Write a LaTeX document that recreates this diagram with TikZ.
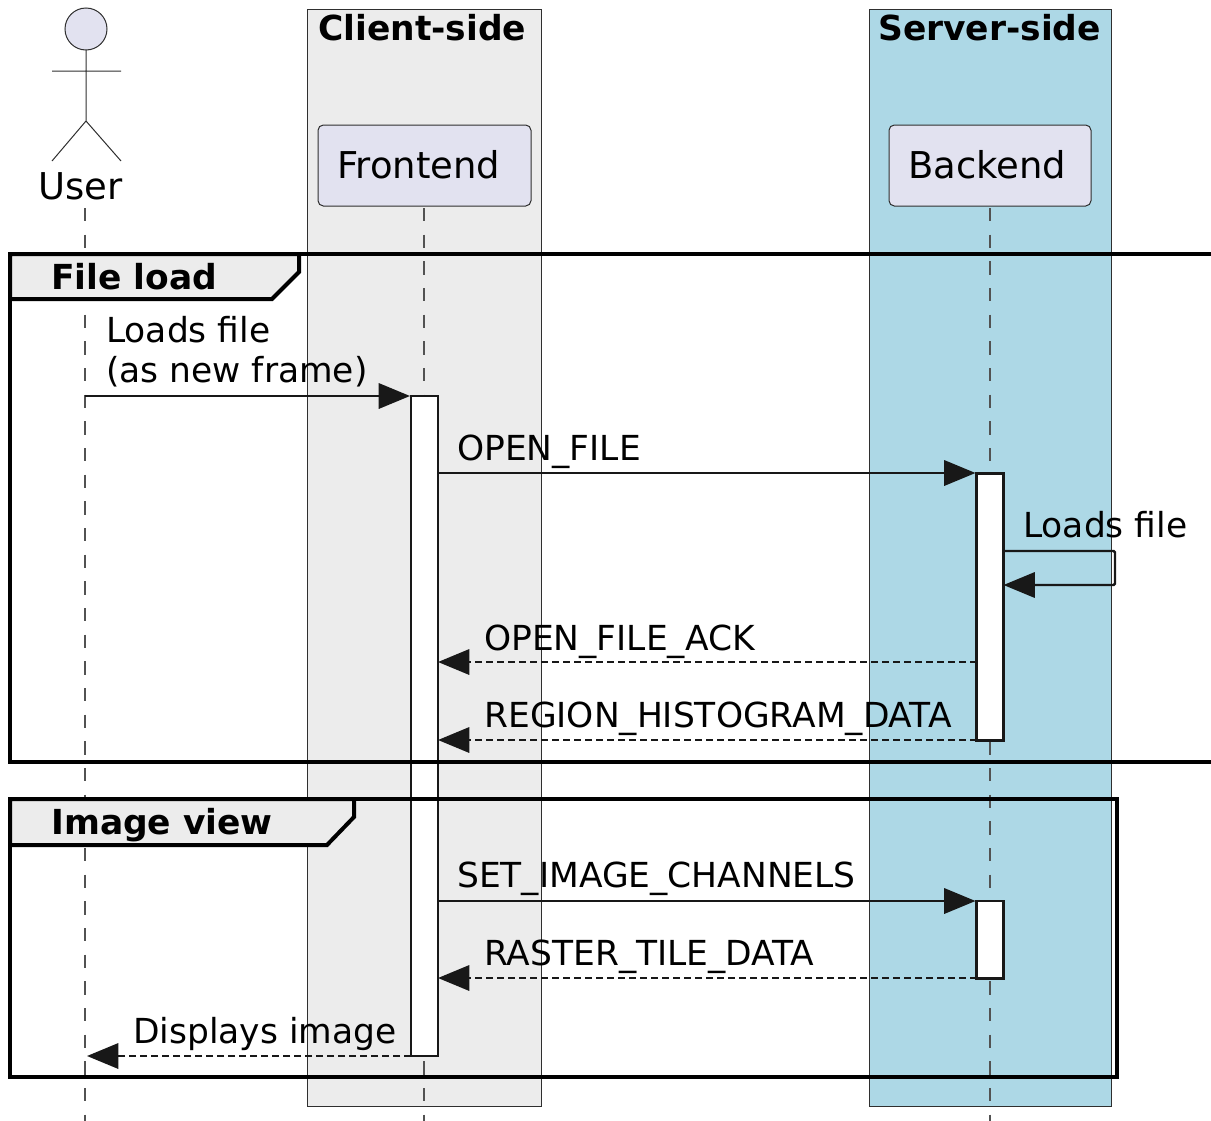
\documentclass[tikz,border=0pt]{standalone}
\usepackage{fontspec}
\setmainfont{DejaVu Sans}
\usetikzlibrary{arrows.meta}

\definecolor{boxgrey}{HTML}{ECECEC}
\definecolor{boxblue}{HTML}{ADD8E6}
\definecolor{partfill}{HTML}{E2E2F0}
\definecolor{inkline}{HTML}{181818}

\tikzset{
	lifeline/.style={draw=inkline!75, line width=1.1pt, dash pattern=on 10pt off 10pt},
	boxside/.style={draw=inkline!90, line width=0.75pt},
	partbox/.style={draw=inkline!90, fill=partfill, line width=0.75pt, rounded corners=4pt},
	actbar/.style={draw=inkline, fill=white, line width=2pt, inner sep=0, outer sep=0, minimum width=20.25pt, anchor=north},
	frameline/.style={draw=black, line width=3pt},
	tabline/.style={draw=black, fill=boxgrey, line width=3pt},
	msgline/.style={draw=inkline, line width=1.8pt, shorten >=0.75pt, -{Triangle[length=23.5pt,width=19pt]}},
	msgdash/.style={msgline, dash pattern=on 5pt off 3.25pt},
	msgtext/.style={anchor=base west, inner sep=0, font=\fontsize{25.85}{30}\selectfont},
	parttext/.style={anchor=base west, inner sep=0, font=\fontsize{27.7}{32}\selectfont},
	headtext/.style={anchor=base west, inner sep=0, font=\fontsize{25.85}{30}\bfseries\selectfont}
}

\begin{document}
\begin{tikzpicture}[x=0.75pt, y=-0.75pt]
	\useasboundingbox (0,0) rectangle (1211,1121);

	% boxes
	\draw [boxside, fill=boxgrey] (307,9) rectangle (541,1106);
	\draw [boxside, fill=boxblue] (869,9) rectangle (1111,1106);
	\node (Client) [headtext] at (318,40) {Client-side};
	\node (Server) [headtext] at (878,40) {Server-side};

	% lifelines
	\foreach \x [count=\xi] in {85,424,990}{
		\coordinate (T\xi) at (\x,208);
		\coordinate (D\xi) at (\x,1121);
		\draw [lifeline] (T\xi) -- (D\xi);}

	% actor
	\draw [boxside, fill=partfill] (86,29) circle [radius=21];
	\draw [boxside] (86,50) -- (86,121) (52,71) -- (121,71) (52,161) -- (86,121) -- (121,161);
	\node (User) [parttext] at (38,199) {User};

	% participants
	\draw [partbox] (318,125) rectangle (531,206);
	\draw [partbox] (889,125) rectangle (1091,206);
	\node (Frontend) [parttext] at (337,178) {Frontend};
	\node (Backend) [parttext] at (908,178) {Backend};

	% activations
	\node (F1) [actbar, minimum height=495pt] at (424.5,396) {};
	\node (B1) [actbar, minimum height=200pt] at (990,473.5) {};
	\node (B2) [actbar, minimum height=58pt] at (990,901) {};

	% frames
	\draw [frameline] (1211,254) -- (10,254) -- (10,762) -- (1211,762);
	\draw [frameline] (10,799) rectangle (1117,1077);
	\draw [tabline] (10,254) -- (299,254) -- (299,272) -- (272,299) -- (10,299) -- cycle;
	\draw [tabline] (10,799) -- (354,799) -- (354,817) -- (327,845) -- (10,845) -- cycle;
	\node (Load) [headtext] at (51,289) {File load};
	\node (View) [headtext] at (51,834) {Image view};

	% messages
	\coordinate (U1) at (85,396);
	\coordinate (U2) at (87,1056);
	\coordinate (S1) at (1115,551);
	\coordinate (S2) at (1115,585);
	\coordinate (F2) at (F1.east |- 0,473);
	\coordinate (F3) at (F1.east |- 0,662);
	\coordinate (F4) at (F1.east |- 0,740);
	\coordinate (F5) at (F1.east |- 0,901);
	\coordinate (F6) at (F1.east |- 0,978);
	\coordinate (B3) at (B1.west |- 0,473);
	\coordinate (B4) at (B1.west |- 0,662);
	\coordinate (B5) at (B1.west |- 0,740);
	\coordinate (B6) at (B2.west |- 0,901);
	\coordinate (B7) at (B2.west |- 0,978);

	\draw [msgline] (U1) -- (F1.north west);
	\draw [msgline] (F2) -- (B3);
	\draw [msgline, shorten >=0pt, rounded corners=1pt] (B1.east |- S1) -- (S1) -- (S2) -- (B1.east |- S2);
	\draw [msgdash, shorten >=0pt] (B4) -- (F3);
	\draw [msgdash, shorten >=0pt] (B5) -- (F4);
	\draw [msgline] (F5) -- (B6);
	\draw [msgdash, shorten >=0pt] (B7) -- (F6);
	\draw [msgdash, shorten >=0pt] (F1.south west) -- (U2);

	\foreach \x/\y/\txt [count=\xi] in {106/342/Loads file, 106/382/(as new frame), 457/460/OPEN\_FILE,
		1023/537/Loads file, 484/650/OPEN\_FILE\_ACK, 484/727/REGION\_HISTOGRAM\_DATA,
		457/887/SET\_IMAGE\_CHANNELS, 484/965/RASTER\_TILE\_DATA, 133/1043/Displays image}{
		\node (M\xi) [msgtext] at (\x,\y) {\txt};}
\end{tikzpicture}
\end{document}
